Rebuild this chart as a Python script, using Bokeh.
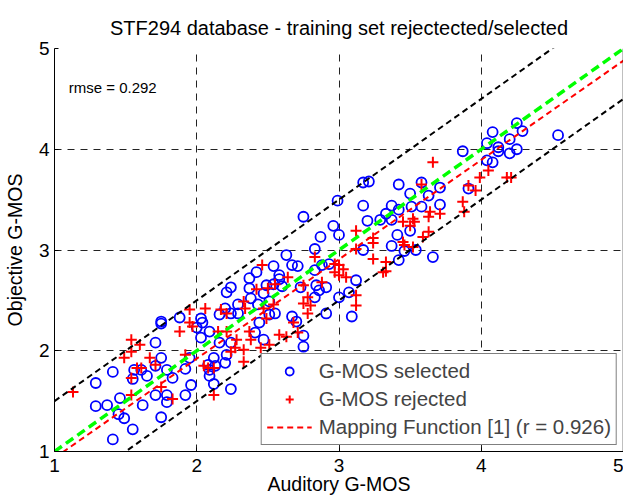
import numpy as np
from bokeh.plotting import figure
from bokeh.models import Label, Span, FixedTicker
from bokeh.embed import file_html
from bokeh.resources import INLINE

TITLE = "STF294 database - training set rejectected/selected"
X_LABEL = "Auditory G-MOS"
Y_LABEL = "Objective G-MOS"
TICKS = [1, 2, 3, 4, 5]
RMSE_TEXT = "rmse = 0.292"
SEL_LABEL = "G-MOS selected"
REJ_LABEL = "G-MOS rejected"
MAP_LABEL = "Mapping Function [1] (r = 0.926)"

# mapping function (linear) and tolerance band
MAP_SLOPE = 0.986
MAP_INTERCEPT = -0.05
BAND = 0.5

sel_x = [4.25, 4.29, 4.08, 4.20, 4.04, 4.12, 4.12, 4.25, 4.20, 4.04, 4.08, 4.54,
         3.87, 3.17, 3.21, 3.42, 3.58, 3.71, 3.50, 3.63, 2.99, 3.17, 3.37, 3.71,
         3.58, 3.51, 3.42, 3.33, 3.29, 3.37, 3.20, 2.75, 2.96, 3.00, 2.87, 3.50,
         3.41, 2.83, 3.17, 3.37, 3.54, 3.66, 3.42, 3.12, 3.07, 3.00, 2.91, 3.09,
         3.91, 2.93, 2.88, 2.83, 2.91, 2.86, 2.83, 2.75, 2.75, 2.84, 2.73, 3.46,
         2.63, 2.67, 2.71, 2.54, 2.42, 2.37, 2.58, 2.58, 2.54, 2.49, 2.60, 2.24,
         2.21, 2.37, 2.47, 2.38, 2.51, 2.43, 2.29, 2.20, 2.24, 2.29, 2.16, 2.03,
         2.04, 2.00, 1.88, 1.75, 1.75, 2.09, 2.16, 2.24, 2.03, 2.44, 2.51, 2.55,
         2.47, 2.41, 2.67, 2.70, 2.21, 2.20, 2.12, 2.13, 2.08, 2.09, 2.09, 2.12,
         2.24, 1.95, 1.92, 1.83, 1.79, 1.75, 1.71, 1.71, 1.65, 1.61, 1.56, 1.55,
         1.41, 1.29, 1.46, 1.37, 1.29, 1.62, 1.45, 1.49, 1.55, 1.41, 1.75, 1.71,
         1.79, 1.79, 1.92, 1.96]
sel_y = [4.26, 4.18, 4.17, 4.10, 4.06, 4.02, 3.98, 4.00, 3.96, 3.89, 3.87, 4.14,
         3.98, 3.67, 3.68, 3.65, 3.67, 3.62, 3.56, 3.54, 3.49, 3.44, 3.44, 3.45,
         3.43, 3.43, 3.40, 3.36, 3.30, 3.30, 3.29, 3.33, 3.24, 3.15, 3.13, 3.19,
         3.15, 3.01, 3.00, 3.04, 3.00, 2.93, 2.90, 2.70, 2.58, 2.53, 2.37, 2.34,
         3.61, 2.86, 2.85, 2.80, 2.63, 2.60, 2.53, 2.15, 2.04, 2.65, 2.63, 2.99,
         2.95, 2.85, 2.84, 2.84, 2.78, 2.72, 2.75, 2.71, 2.66, 2.65, 2.64, 2.63,
         2.58, 2.62, 2.57, 2.52, 2.49, 2.46, 2.46, 2.42, 2.37, 2.37, 2.36, 2.32,
         2.28, 2.23, 2.33, 2.29, 2.27, 2.19, 2.08, 2.08, 2.13, 2.28, 2.36, 2.37,
         2.11, 2.18, 2.34, 2.29, 1.96, 1.88, 1.93, 1.85, 1.86, 1.81, 1.75, 1.67,
         1.62, 1.93, 1.82, 1.73, 1.81, 1.93, 2.08, 1.85, 1.75, 1.81, 1.81, 1.72,
         1.79, 1.68, 1.53, 1.46, 1.45, 1.46, 1.37, 1.33, 1.22, 1.12, 1.34, 1.56,
         1.56, 1.49, 1.56, 1.66]

rej_x = [2.46, 2.55, 2.50, 2.42, 2.64, 2.33, 2.34, 2.17, 2.21, 2.47, 2.54, 2.49,
         1.95, 2.06, 1.95, 1.97, 1.88, 2.15, 2.21, 2.28, 2.37, 2.38, 2.58, 2.63,
         2.24, 2.27, 2.33, 2.33, 2.45, 2.51, 2.05, 2.08, 2.12, 1.92, 1.54, 1.54,
         1.60, 1.49, 1.67, 1.71, 1.58, 1.61, 1.54, 1.75, 1.83, 1.54, 1.13, 2.12,
         3.66, 3.91, 3.96, 3.87, 3.88, 3.58, 3.64, 3.71, 3.45, 3.52, 3.53, 3.50,
         3.63, 3.59, 3.12, 3.24, 3.24, 3.45, 3.46, 3.52, 3.12, 2.83, 3.24, 3.33,
         3.31, 3.33, 2.97, 3.00, 3.03, 2.97, 3.00, 3.05, 2.88, 3.12, 3.12, 2.75,
         2.78, 2.75, 2.80, 2.78, 2.68, 2.71, 3.63, 4.05, 3.99, 4.18, 4.21]
rej_y = [2.85, 2.66, 2.62, 2.61, 2.73, 2.49, 2.42, 2.41, 2.37, 2.42, 2.46, 2.32,
         2.41, 2.42, 2.28, 2.24, 2.19, 2.19, 2.19, 2.11, 2.19, 2.11, 2.16, 2.14,
         1.99, 2.03, 2.01, 1.89, 2.03, 2.06, 1.85, 1.83, 1.83, 1.96, 2.11, 1.99,
         2.06, 1.93, 1.93, 1.86, 1.83, 1.83, 1.73, 1.64, 1.52, 1.56, 1.59, 1.56,
         3.87, 3.64, 3.59, 3.48, 3.38, 3.65, 3.38, 3.36, 3.28, 3.31, 3.28, 3.24,
         3.18, 3.13, 3.19, 3.12, 3.07, 3.08, 3.05, 3.03, 3.01, 2.93, 2.91, 2.88,
         2.78, 2.79, 2.86, 2.85, 2.81, 2.78, 2.75, 2.73, 2.68, 2.55, 2.45, 2.65,
         2.53, 2.47, 2.45, 2.37, 2.28, 2.18, 3.33, 3.79, 3.72, 3.72, 3.72]

FONT = "Liberation Sans"

p = figure(frame_width=569, frame_height=403, x_range=(1, 5), y_range=(1, 5),
           output_backend="svg", toolbar_location=None, title=TITLE,
           min_border_left=47, min_border_right=0, min_border_top=48,
           min_border_bottom=48)
p.outline_line_color = None
p.background_fill_color = "white"
p.border_fill_color = "white"

p.title.text_font = FONT
p.title.text_font_size = "20px"
p.title.text_font_style = "normal"
p.title.align = "center"
p.title.text_color = "black"
p.title.standoff = 20

for ax in (p.xaxis, p.yaxis):
    ax.ticker = FixedTicker(ticks=TICKS)
    ax.major_label_text_font = FONT
    ax.major_label_text_font_size = "19px"
    ax.major_label_text_color = "black"
    ax.axis_label_text_font = FONT
    ax.axis_label_text_font_size = "19.5px"
    ax.axis_label_text_font_style = "normal"
    ax.axis_label_text_color = "black"
    ax.major_tick_in = 4
    ax.major_tick_out = 0
    ax.minor_tick_line_color = None
    ax.axis_line_color = "black"
    ax.major_tick_line_color = "black"
p.xaxis.axis_label = X_LABEL
p.yaxis.axis_label = Y_LABEL
p.xaxis.major_label_standoff = 7
p.xaxis.axis_label_standoff = -2
p.yaxis.major_label_standoff = 5
p.yaxis.axis_label_standoff = 10

for g in (p.xgrid, p.ygrid):
    g.ticker = FixedTicker(ticks=TICKS)
    g.grid_line_color = "#222222"
    g.grid_line_dash = "7 6"
    g.grid_line_width = 1

p.add_layout(Span(location=5, dimension="height", line_color="black", line_width=1.5))

p.scatter(sel_x, sel_y, marker="circle", size=10, fill_color=None,
          line_color="#0000ff", line_width=1.8, legend_label=SEL_LABEL)
p.scatter(rej_x, rej_y, marker="cross", size=11, line_color="#ff0000",
          line_width=2, legend_label=REJ_LABEL)

line_x = np.array([1.0, 5.0])
p.line(line_x, line_x + BAND, line_color="black", line_width=2, line_dash="6 4")
p.line(line_x, line_x - BAND, line_color="black", line_width=2, line_dash="6 4")
p.line(line_x, line_x, line_color="#00ff00", line_width=3.5, line_dash="9 5")
p.line(line_x, MAP_SLOPE * line_x + MAP_INTERCEPT, line_color="#ff0000",
       line_width=2, line_dash="6 4", legend_label=MAP_LABEL)

p.add_layout(Label(x=1.1, y=4.61, text=RMSE_TEXT, text_font=FONT,
                   text_font_size="15px", text_baseline="middle", text_color="black"))

lg = p.legend[0]
lg.location = "bottom_right"
lg.margin = 6
lg.padding = 5
lg.spacing = 4
lg.label_height = 23
lg.glyph_height = 20
lg.glyph_width = 45
lg.label_standoff = 7
lg.label_text_font = FONT
lg.label_text_font_size = "20.5px"
lg.border_line_color = "black"
lg.border_line_width = 1.5
lg.background_fill_color = "white"
lg.background_fill_alpha = 1.0

open("out.html", "w").write(file_html(p, INLINE))
